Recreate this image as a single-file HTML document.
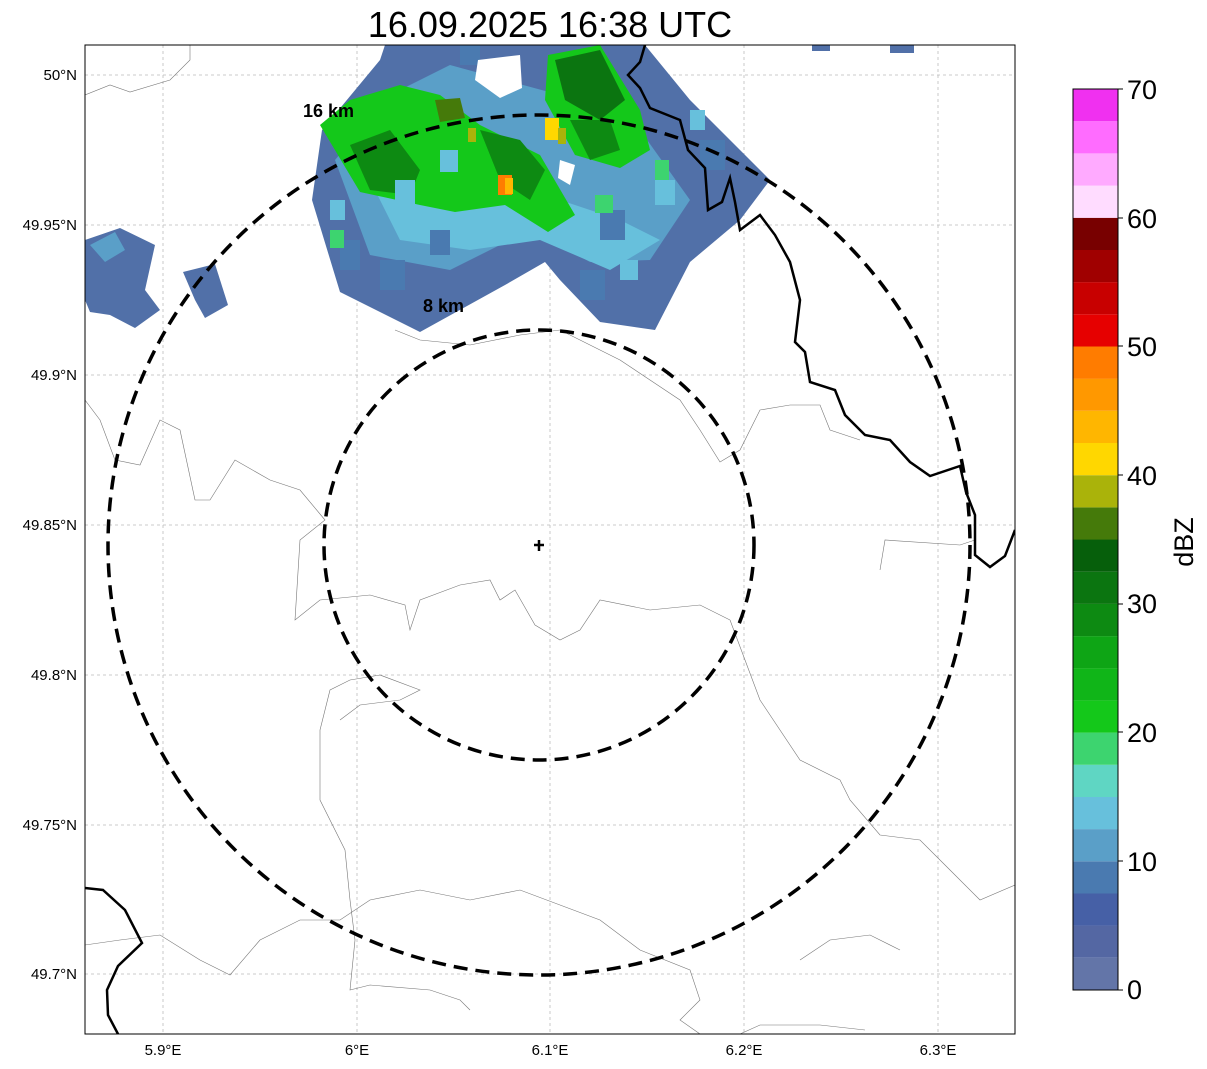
<!DOCTYPE html>
<html><head><meta charset="utf-8"><style>
body{margin:0;background:#fff;}
svg{display:block;font-family:"Liberation Sans","DejaVu Sans",sans-serif;}
</style></head><body>
<svg width="1207" height="1069" viewBox="0 0 1207 1069" xmlns="http://www.w3.org/2000/svg">
<text x="550" y="37" font-size="36" text-anchor="middle">16.09.2025 16:38 UTC</text>
<defs><clipPath id="c"><rect x="85" y="45" width="930" height="989"/></clipPath></defs>
<g clip-path="url(#c)">
<g stroke="#bbb" stroke-width="0.8" stroke-dasharray="3,3">
<line x1="163" y1="45" x2="163" y2="1034"/><line x1="357" y1="45" x2="357" y2="1034"/><line x1="550" y1="45" x2="550" y2="1034"/><line x1="744" y1="45" x2="744" y2="1034"/><line x1="938" y1="45" x2="938" y2="1034"/>
<line x1="85" y1="75" x2="1015" y2="75"/><line x1="85" y1="225" x2="1015" y2="225"/><line x1="85" y1="375" x2="1015" y2="375"/><line x1="85" y1="525" x2="1015" y2="525"/><line x1="85" y1="675" x2="1015" y2="675"/><line x1="85" y1="825" x2="1015" y2="825"/><line x1="85" y1="974" x2="1015" y2="974"/>
</g>
<g>
<polygon fill="#5170a8" points="312,200 322,130 380,60 385,45 645,45 690,100 770,180 740,220 690,262 655,330 600,322 560,280 545,262 505,285 420,332 340,292"/>
<polygon fill="#5a9fc8" points="335,160 390,95 450,65 560,95 640,130 690,200 650,260 590,262 530,230 450,270 370,255"/>
<polygon fill="#67c0dc" points="370,180 420,130 500,150 560,200 620,220 660,240 610,270 540,240 470,250 400,240"/>
<polygon fill="#14c81a" points="320,125 350,100 400,85 440,95 480,125 540,155 575,215 548,232 505,205 455,212 420,205 360,192"/>
<polygon fill="#14c81a" points="548,55 600,45 640,110 650,150 620,168 575,155 545,100"/>
<polygon fill="#0d8a12" points="350,145 390,130 420,170 410,195 370,190"/>
<polygon fill="#0d8a12" points="480,130 520,140 545,170 530,200 500,180"/>
<polygon fill="#0b7510" points="555,60 600,50 625,100 600,120 565,100"/>
<polygon fill="#0d8a12" points="570,120 610,120 620,150 590,160"/>
<g fill="#4a7ab0">
<rect x="340" y="240" width="20" height="30"/><rect x="380" y="260" width="25" height="30"/><rect x="430" y="230" width="20" height="25"/><rect x="600" y="210" width="25" height="30"/><rect x="460" y="40" width="20" height="25"/><rect x="700" y="140" width="25" height="30"/><rect x="580" y="270" width="25" height="30"/>
</g>
<g fill="#67c0dc">
<rect x="395" y="180" width="20" height="25"/><rect x="440" y="150" width="18" height="22"/><rect x="655" y="180" width="20" height="25"/><rect x="330" y="200" width="15" height="20"/><rect x="690" y="110" width="15" height="20"/><rect x="620" y="260" width="18" height="20"/>
</g>
<g fill="#3dd46f">
<rect x="330" y="230" width="14" height="18"/><rect x="655" y="160" width="14" height="20"/><rect x="595" y="195" width="18" height="18"/>
</g>
<polygon fill="#3dd46f" points="495,65 515,62 515,80 505,83"/>
<polygon fill="#457a0a" points="435,100 460,98 465,118 440,122"/>
<rect x="545" y="118" width="14" height="22" fill="#ffd700"/>
<rect x="558" y="128" width="8" height="16" fill="#aab30a"/>
<rect x="498" y="175" width="14" height="20" fill="#ff7c00"/>
<rect x="505" y="178" width="8" height="16" fill="#ffb600"/>
<rect x="468" y="128" width="8" height="14" fill="#aab30a"/>
<polygon fill="#fff" points="478,60 520,55 522,88 500,98 475,80"/>
<polygon fill="#fff" points="560,160 575,165 570,185 558,178"/>
<polygon fill="#5170a8" points="85,240 120,228 155,245 145,290 160,310 135,328 110,315 90,312 85,300"/>
<polygon fill="#5a9fc8" points="90,245 115,232 125,250 105,262"/>
<polygon fill="#5170a8" points="183,272 215,264 228,305 205,318 195,300"/>
<rect x="812" y="45" width="18" height="6" fill="#5170a8"/>
<rect x="890" y="45" width="24" height="8" fill="#5170a8"/>
</g>
<g fill="none" stroke="#777" stroke-width="0.6">
<path d="M85,95 L110,85 L130,92 L170,80 L190,60 L190,45"/>
<path d="M85,400 L100,420 L115,460 L140,465 L160,420 L180,430 L195,500 L210,500 L235,460 L270,480 L300,490 L325,520 L300,540 L295,620 L320,600 L370,595 L405,605 L410,630 L420,600 L460,585 L490,580 L500,600 L515,590 L535,625 L560,640 L580,630 L600,600 L650,610 L700,605 L730,620"/>
<path d="M395,330 L420,340 L470,345 L520,335 L560,330 L580,340 L620,360 L650,380 L680,400 L700,430 L720,462 L740,450 L760,410 L790,405 L820,405 L830,430 L860,440"/>
<path d="M340,720 L360,705 L400,700 L420,690 L380,675 L350,680 L330,690 L320,730 L320,800 L345,850 L350,900 L355,940 L350,990 L370,985 L430,990 L460,1000 L470,1010"/>
<path d="M730,620 L760,700 L800,760 L840,780 L850,800 L880,835 L920,840 L950,870 L980,900 L1015,885"/>
<path d="M880,570 L885,540 L960,545 L975,540"/>
<path d="M85,945 L120,940 L160,935 L200,960 L230,975 L260,940 L300,920 L340,920 L370,900 L420,890 L470,900 L520,890 L560,905 L600,920 L640,950 L690,970 L700,1000 L680,1020 L700,1034"/>
<path d="M740,1034 L760,1025 L820,1025 L865,1030"/>
<path d="M800,960 L830,940 L870,935 L900,950"/>
</g>
<g fill="none" stroke="#000" stroke-width="2.5">
<path d="M645,45 L640,62 L628,75 L640,88 L650,108 L680,120 L688,150 L705,168 L708,210 L722,202 L730,178 L735,202 L740,230 L760,215 L775,235 L790,262 L800,300 L795,342 L805,352 L810,382 L835,390 L845,415 L865,435 L890,440 L910,462 L930,476 L960,466 L966,492 L975,515 L975,555 L990,567 L1005,556 L1015,530"/>
<path d="M85,888 L103,890 L125,910 L142,943 L118,966 L107,990 L108,1015 L118,1034"/>
</g>
<g fill="none" stroke="#000" stroke-width="3.5" stroke-dasharray="14,8">
<ellipse cx="539" cy="545" rx="431" ry="430"/>
<ellipse cx="539" cy="545" rx="215" ry="215"/>
</g>
<path d="M539,540 V551 M534,545 H544" stroke="#000" stroke-width="2.5"/>
<text x="303" y="117" font-size="18" font-weight="bold">16 km</text>
<text x="423" y="312" font-size="18" font-weight="bold">8 km</text>
</g>
<rect x="85" y="45" width="930" height="989" fill="none" stroke="#000" stroke-width="1"/>
<g font-size="15" text-anchor="middle">
<text x="163" y="1055">5.9°E</text><text x="357" y="1055">6°E</text><text x="550" y="1055">6.1°E</text><text x="744" y="1055">6.2°E</text><text x="938" y="1055">6.3°E</text>
</g>
<g font-size="15" text-anchor="end">
<text x="77" y="80">50°N</text><text x="77" y="230">49.95°N</text><text x="77" y="380">49.9°N</text><text x="77" y="530">49.85°N</text><text x="77" y="680">49.8°N</text><text x="77" y="830">49.75°N</text><text x="77" y="979">49.7°N</text>
</g>
<g>
<rect x="1073" y="957.8" width="45" height="32.2" fill="#6375a8"/>
<rect x="1073" y="925.6" width="45" height="32.2" fill="#5467a3"/>
<rect x="1073" y="893.5" width="45" height="32.2" fill="#4660a6"/>
<rect x="1073" y="861.3" width="45" height="32.2" fill="#4a7ab0"/>
<rect x="1073" y="829.1" width="45" height="32.2" fill="#5a9fc8"/>
<rect x="1073" y="796.9" width="45" height="32.2" fill="#67c0dc"/>
<rect x="1073" y="764.8" width="45" height="32.2" fill="#5fd6c3"/>
<rect x="1073" y="732.6" width="45" height="32.2" fill="#3dd46f"/>
<rect x="1073" y="700.4" width="45" height="32.2" fill="#14c81a"/>
<rect x="1073" y="668.2" width="45" height="32.2" fill="#10b518"/>
<rect x="1073" y="636.1" width="45" height="32.2" fill="#0ea515"/>
<rect x="1073" y="603.9" width="45" height="32.2" fill="#0d8a12"/>
<rect x="1073" y="571.7" width="45" height="32.2" fill="#0b7510"/>
<rect x="1073" y="539.5" width="45" height="32.2" fill="#065f0b"/>
<rect x="1073" y="507.4" width="45" height="32.2" fill="#457a0a"/>
<rect x="1073" y="475.2" width="45" height="32.2" fill="#aab30a"/>
<rect x="1073" y="443.0" width="45" height="32.2" fill="#ffd700"/>
<rect x="1073" y="410.8" width="45" height="32.2" fill="#ffb600"/>
<rect x="1073" y="378.6" width="45" height="32.2" fill="#ff9800"/>
<rect x="1073" y="346.5" width="45" height="32.2" fill="#ff7c00"/>
<rect x="1073" y="314.3" width="45" height="32.2" fill="#e60000"/>
<rect x="1073" y="282.1" width="45" height="32.2" fill="#c80000"/>
<rect x="1073" y="249.9" width="45" height="32.2" fill="#a00000"/>
<rect x="1073" y="217.8" width="45" height="32.2" fill="#780000"/>
<rect x="1073" y="185.6" width="45" height="32.2" fill="#ffdcff"/>
<rect x="1073" y="153.4" width="45" height="32.2" fill="#ffaaff"/>
<rect x="1073" y="121.2" width="45" height="32.2" fill="#ff6cff"/>
<rect x="1073" y="89" width="45" height="32.2" fill="#f030f0"/>
<rect x="1073" y="89" width="45" height="901" fill="none" stroke="#000" stroke-width="1"/>
</g>
<g font-size="27">
<text x="1127" y="999">0</text><text x="1127" y="871">10</text><text x="1127" y="742">20</text><text x="1127" y="613">30</text><text x="1127" y="485">40</text><text x="1127" y="356">50</text><text x="1127" y="228">60</text><text x="1127" y="99">70</text>
</g>
<g stroke="#000" stroke-width="1"><line x1="1118" y1="990" x2="1123" y2="990"/><line x1="1118" y1="861" x2="1123" y2="861"/><line x1="1118" y1="732" x2="1123" y2="732"/><line x1="1118" y1="604" x2="1123" y2="604"/><line x1="1118" y1="475" x2="1123" y2="475"/><line x1="1118" y1="346" x2="1123" y2="346"/><line x1="1118" y1="218" x2="1123" y2="218"/><line x1="1118" y1="89" x2="1123" y2="89"/></g>
<text x="1193" y="542" font-size="27" text-anchor="middle" transform="rotate(-90 1193 542)">dBZ</text>
</svg>
</body></html>
